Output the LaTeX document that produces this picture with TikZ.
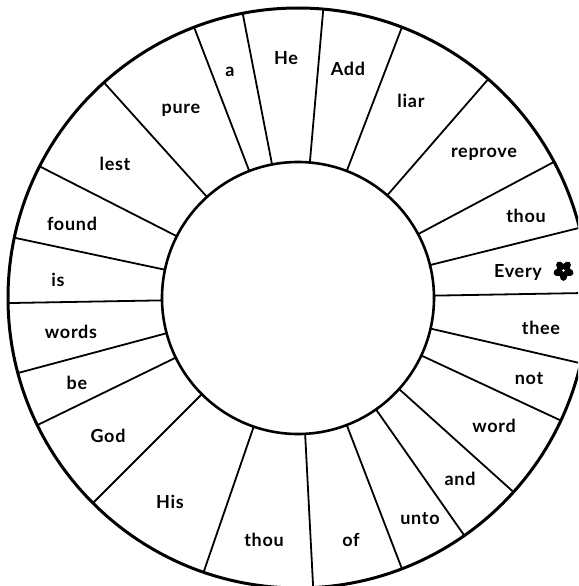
\documentclass[tikz,border=0pt]{standalone}
\usepackage{fontspec}
\setmainfont{Lato}[LetterSpace=4]
\tikzset{
  ring/.style={circle, draw=black, inner sep=0pt, outer sep=0pt},
  radial/.style={draw=black, line width=1.8pt},
  word/.style={anchor=base, inner sep=0pt, font=\fontsize{18}{20}\selectfont\bfseries},
  petal/.style={fill=black}
}
\begin{document}
\begin{tikzpicture}[x=1pt,y=-1pt]
\useasboundingbox (0,0) rectangle (578,586);
\fill[white] (0,0) rectangle (578,586);
\clip (0,0) rectangle (578,586);
\node[ring, line width=3pt, minimum size=580pt] (outer) at (298,298) {};
\node[ring, line width=2.6pt, minimum size=272pt] (inner) at (298,298) {};
\foreach \a in {85.9,101,111.7,132.6,153.1,168.8,181.5,195.2,206,225.6,251.2,273.5,291.8,305.3,318.5,335,347.2,1,14.5,28.2,49.7,69.1}
  \draw[radial] (inner.\a) -- (outer.\a);
\node[word] (wHe) at (286,64) {He};
\node[word] (wa) at (230,77) {a};
\node[word] (wpure) at (181,113) {pure};
\node[word] (wlest) at (115,170) {lest};
\node[word] (wfound) at (72,230) {found};
\node[word] (wis) at (58,286) {is};
\node[word] (wwords) at (71,338) {words};
\node[word] (wbe) at (77,389) {be};
\node[word] (wGod) at (108,442) {God};
\node[word] (wHis) at (170,508) {His};
\node[word] (wthouB) at (264,546) {thou};
\node[word] (wof) at (351,546) {of};
\node[word] (wunto) at (420,524) {unto};
\node[word] (wand) at (460,485) {and};
\node[word] (wword) at (494,432) {word};
\node[word] (wnot) at (529,384) {not};
\node[word] (wthee) at (541,334) {thee};
\node[word] (wEvery) at (518,277) {Every};
\coordinate (star) at (563.5,270.5);
\foreach \t in {90,162,234,306,18}
  \fill[petal, shift={(star)}, rotate=-\t] (5,0) ellipse [x radius=5.4pt, y radius=3.9pt];
\fill[white] (star) circle [radius=1.4pt];
\node[word] (wthouR) at (526,222) {thou};
\node[word] (wreprove) at (484,157) {reprove};
\node[word] (wliar) at (411,107) {liar};
\node[word] (wAdd) at (348,75) {Add};
\end{tikzpicture}
\end{document}
